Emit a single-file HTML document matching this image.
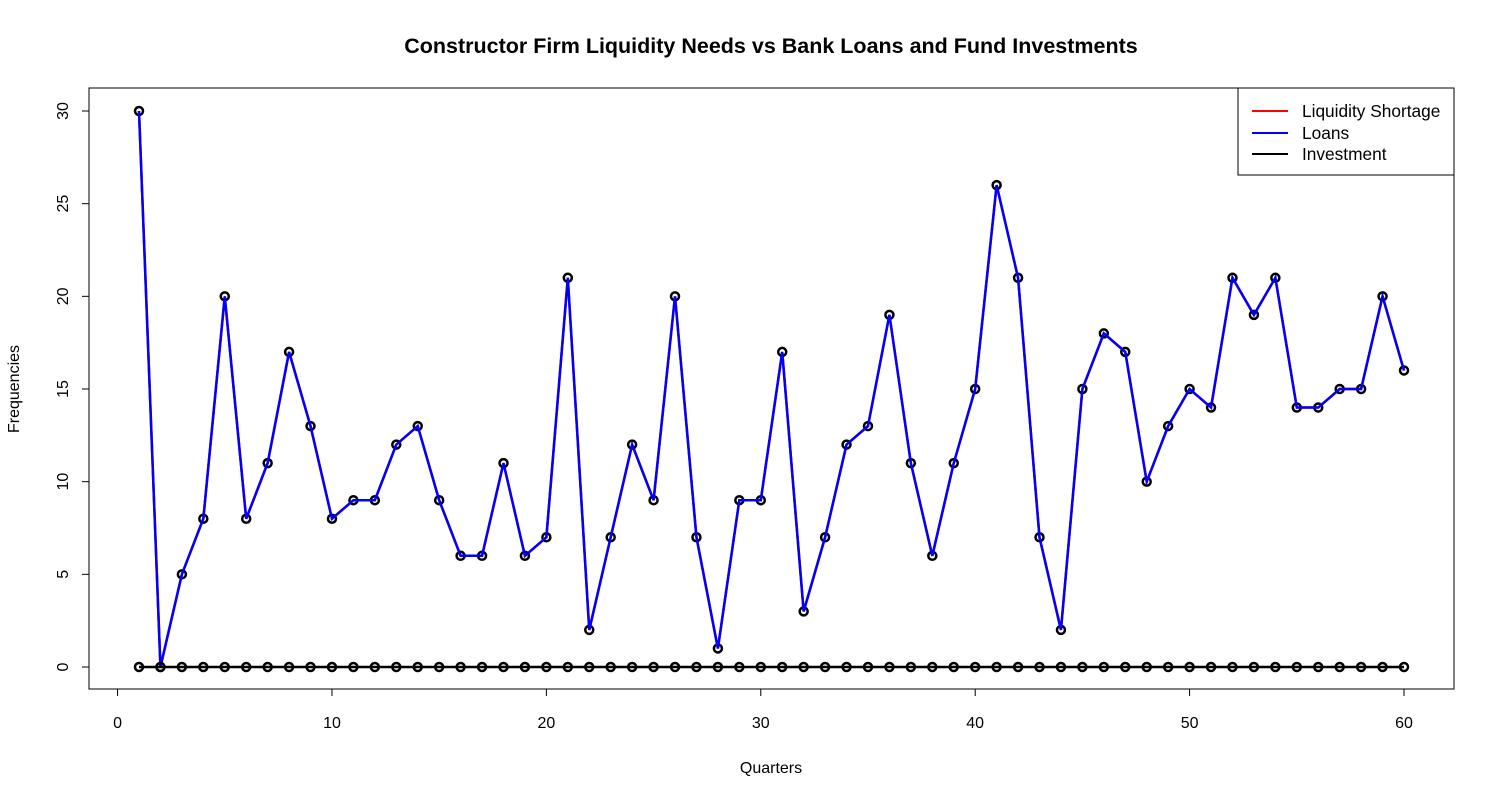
<!DOCTYPE html>
<html><head><meta charset="utf-8"><style>
body{margin:0;background:#fff;}
svg{font-family:"Liberation Sans",Arial,sans-serif;}
</style></head><body>
<svg id="chart" width="1500" height="800">
<text x="771" y="53" text-anchor="middle" font-size="21.5" font-weight="bold">Constructor Firm Liquidity Needs vs Bank Loans and Fund Investments</text>
<rect x="89" y="88" width="1365" height="601" fill="none" stroke="#000"/>
<g id="xaxis"></g>
<g id="yaxis"></g>
<text x="771" y="773" text-anchor="middle" font-size="16">Quarters</text>
<text transform="translate(19,389) rotate(-90)" text-anchor="middle" font-size="16">Frequencies</text>
<g id="series"></g>
<g>
<rect x="1238" y="88" width="216" height="87" fill="#fff" stroke="#000"/>
<line x1="1252" y1="111" x2="1288" y2="111" stroke="red" stroke-width="2"/>
<text x="1302" y="117" font-size="17.3">Liquidity Shortage</text>
<line x1="1252" y1="133" x2="1288" y2="133" stroke="blue" stroke-width="2"/>
<text x="1302" y="139" font-size="17.3">Loans</text>
<line x1="1252" y1="154" x2="1288" y2="154" stroke="#000" stroke-width="2"/>
<text x="1302" y="160" font-size="17.3">Investment</text>
</g>
</svg>
<script>
const shortage=[30,0,5,8,20,8,11,17,13,8,9,9,12,13,9,6,6,11,6,7,21,2,7,12,9,20,7,1,9,9,17,3,7,12,13,19,11,6,11,15,26,21,7,2,15,18,17,10,13,15,14,21,19,21,14,14,15,15,20,16];
const loans=[30,0,5,8,20,8,11,17,13,8,9,9,12,13,9,6,6,11,6,7,21,2,7,12,9,20,7,1,9,9,17,3,7,12,13,19,11,6,11,15,26,21,7,2,15,18,17,10,13,15,14,21,19,21,14,14,15,15,20,16];
const investment=[0,0,0,0,0,0,0,0,0,0,0,0,0,0,0,0,0,0,0,0,0,0,0,0,0,0,0,0,0,0,0,0,0,0,0,0,0,0,0,0,0,0,0,0,0,0,0,0,0,0,0,0,0,0,0,0,0,0,0,0];
const xTicks=[0,10,20,30,40,50,60];
const yTicks=[0,5,10,15,20,25,30];
const NS="http://www.w3.org/2000/svg";
function X(v){return 139+(v-1)*(1404-139)/59;}
function Y(v){return 667-v*(667-111)/30;}
function mk(t,a,p){const e=document.createElementNS(NS,t);for(const k in a)e.setAttribute(k,a[k]);p.appendChild(e);return e;}
const xa=document.getElementById('xaxis'),ya=document.getElementById('yaxis'),sg=document.getElementById('series');
mk('line',{x1:X(0),y1:689,x2:X(60),y2:689,stroke:'#000'},xa);
xTicks.forEach(t=>{mk('line',{x1:X(t),y1:689,x2:X(t),y2:696,stroke:'#000'},xa);
const tx=mk('text',{x:X(t),y:728,'text-anchor':'middle','font-size':16},xa);tx.textContent=t;

});
mk('line',{x1:89,y1:Y(0),x2:89,y2:Y(30),stroke:'#000'},ya);
yTicks.forEach(t=>{mk('line',{x1:82,y1:Y(t),x2:89,y2:Y(t),stroke:'#000'},ya);
const tx=mk('text',{transform:`translate(68,${Y(t)}) rotate(-90)`,'text-anchor':'middle','font-size':16},ya);tx.textContent=t;

});
function line(d,c,name){const p=mk('polyline',{points:d.map((v,i)=>X(i+1)+','+Y(v)).join(' '),fill:'none',stroke:c,'stroke-width':2.5},sg);

}
function pts(d,name){d.forEach((v,i)=>{const c=mk('circle',{cx:X(i+1),cy:Y(v),r:4,fill:'none',stroke:'#000','stroke-width':2.5},sg);

});}
line(shortage,'red','liquidity-shortage-line');
pts(shortage,'liquidity-shortage-point');
line(loans,'blue','loans-line');
line(investment,'#000','investment-line');
pts(investment,'investment-point');
</script>
</body></html>
